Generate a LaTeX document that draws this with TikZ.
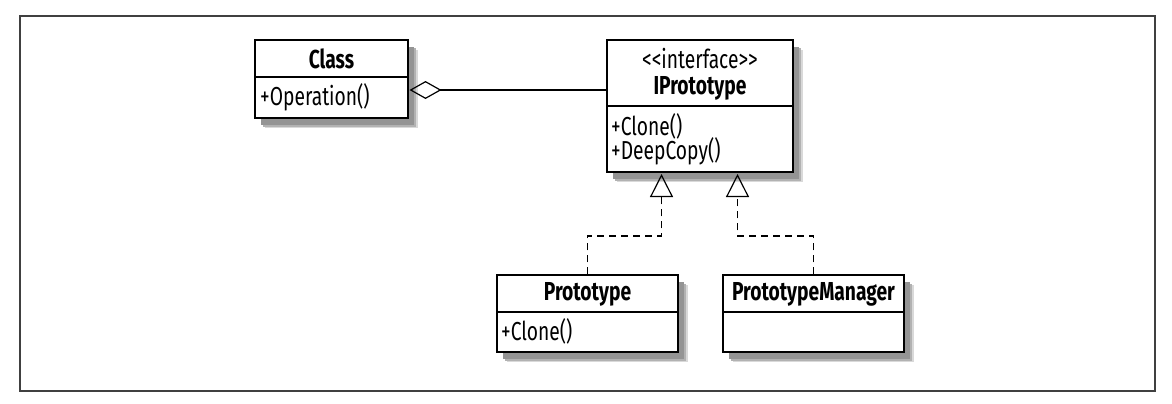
\documentclass[tikz,border=0pt]{standalone}
\usepackage{fontspec}
\setmainfont{Fira Sans}[FakeStretch=0.74]
\usetikzlibrary{shadows,arrows.meta,calc}
\tikzset{
  umlbox/.style={draw=black, line width=1.3pt, fill=white, inner sep=0pt,
    general shadow={shadow xshift=10pt, shadow yshift=-10pt, fill=black!15},
    general shadow={shadow xshift=8pt, shadow yshift=-8.5pt, fill=black!30},
    general shadow={shadow xshift=6pt, shadow yshift=-7pt, fill=black!42}},
  divider/.style={line width=1.1pt},
  title/.style={font=\bfseries\fontsize{26}{30}\selectfont, inner sep=0pt},
  member/.style={font=\fontsize{26}{30}\selectfont, inner sep=0pt, anchor=west},
  realize/.style={line width=1.2pt, dash pattern=on 7pt off 5pt,
    -{Triangle[open, width=23pt, length=23pt, line width=1.2pt]}},
  aggr/.style={line width=1.2pt,
    {Diamond[open, width=18pt, length=32pt, line width=1.2pt]}-}
}
\begin{document}
\begin{tikzpicture}[x=1pt,y=-1pt]
\useasboundingbox (0,0) rectangle (1172,404);
\draw[line width=1.3pt, draw=black!75] (20,16) rectangle (1155,391);

% Class
\node[umlbox, minimum width=153pt, minimum height=78pt] (cls) at (331.5,79) {};
\draw[divider] (255,77) -- (408,77);
\node[title] (clsname) at (331.5,59) {Class};
\node[member] (clsop) at (260,97) {+Operation()};

% IPrototype
\node[umlbox, minimum width=186pt, minimum height=132pt] (ipr) at (700,106) {};
\draw[divider] (607,106) -- (793,106);
\node[font=\fontsize{26}{30}\selectfont, inner sep=0pt] (iprst) at (700,59) {{<}{<}interface{>}{>}};
\node[title] (iprname) at (700,88) {IPrototype};
\node[member] (iprclone) at (611,126) {+Clone()};
\node[member] (iprdeep) at (611,151) {+DeepCopy()};

% Prototype
\node[umlbox, minimum width=181pt, minimum height=77pt] (pro) at (587.5,313.5) {};
\draw[divider] (497,312) -- (678,312);
\node[title] (proname) at (587.5,294) {Prototype};
\node[member] (proclone) at (501,331) {+Clone()};

% PrototypeManager
\node[umlbox, minimum width=181pt, minimum height=77pt] (pm) at (813.5,313.5) {};
\draw[divider] (723,312) -- (904,312);
\node[title] (pmname) at (813.5,294) {PrototypeManager};

% connectors
\coordinate (ag) at (409.5,90);
\draw[aggr] (ag) -- (ipr.west |- ag);

\coordinate (t1) at (661.5,174);
\coordinate (t2) at (737.5,174);
\draw[realize] (pro.north) |- (661.5,236) -- (t1);
\draw[realize] (pm.north) |- (737.5,236) -- (t2);
\end{tikzpicture}
\end{document}
